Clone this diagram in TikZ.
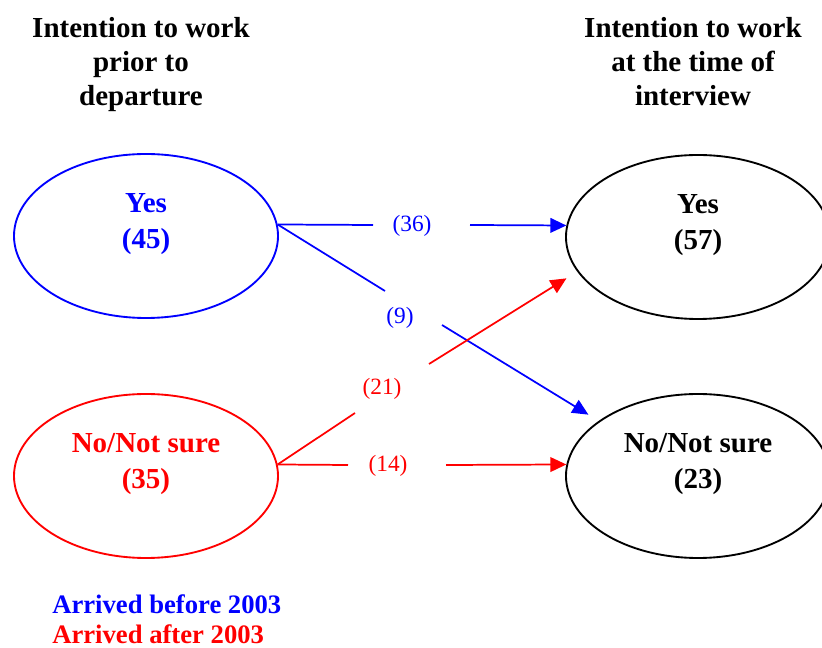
\documentclass[tikz,border=0pt]{standalone}
\usepackage{fontspec}
\setmainfont{Liberation Serif}
\usetikzlibrary{arrows.meta, shapes.geometric, positioning}

\tikzset{
  oval/.style={ellipse, line width=1.4pt, minimum width=198pt, minimum height=123pt, inner sep=0pt},
  heading/.style={font=\fontsize{21.75}{25.5}\selectfont\bfseries, align=center, inner sep=0pt},
  inside/.style={font=\fontsize{21.75}{27}\selectfont\bfseries, align=center, inner sep=0pt, yshift=9pt},
  count/.style={font=\fontsize{17.5}{20}\selectfont, inner sep=0pt},
  legend/.style={font=\fontsize{20}{22.5}\selectfont\bfseries, inner sep=0pt, anchor=base west},
  flow/.style={line width=1.3pt},
  tip/.style={-{Triangle[length=12pt,width=11pt]}},
}

\begin{document}
\begin{tikzpicture}[line join=round, x=0.75pt, y=-0.75pt]
\useasboundingbox (0,0) rectangle (822,648);

% Headings
\node[heading, anchor=north] (before) at (141,17) {Intention to work\\prior to\\departure};
\node[heading, anchor=north] (after) at (693,17) {Intention to work\\at the time of\\interview};

% Ellipses
\node[oval, draw=blue] (ly) at (146,236) {};
\node[oval, draw=red] (ln) at (146,476) {};
\node[oval, draw=black] (ry) at (698,237) {};
\node[oval, draw=black] (rn) at (698,476) {};

\node[inside, text=blue] (lytext) at (ly.center) {Yes\\(45)};
\node[inside, text=red] (lntext) at (ln.center) {No/Not sure\\(35)};
\node[inside] (rytext) at (ry.center) {Yes\\(57)};
\node[inside] (rntext) at (rn.center) {No/Not sure\\(23)};

% Gaps for the counts
\coordinate (b1a) at (373,225); \coordinate (b1b) at (470,225);
\coordinate (b2a) at (385,291); \coordinate (b2b) at (442,325);
\coordinate (r1a) at (355,413); \coordinate (r1b) at (429,364);
\coordinate (r2a) at (348,465); \coordinate (r2b) at (446,465);

% Arrived before 2003
\draw[flow, blue] (ly.5) -- (b1a);
\draw[flow, blue, tip] (b1b) -- (ry.175);
\draw[flow, blue] (ly.5) -- (b2a);
\draw[flow, blue, tip, shorten >=9pt] (b2b) -- (rn.151);

% Arrived after 2003
\draw[flow, red] (ln.5) -- (r1a);
\draw[flow, red, tip, shorten >=9.5pt] (r1b) -- (ry.196);
\draw[flow, red] (ln.5) -- (r2a);
\draw[flow, red, tip] (r2b) -- (rn.175);

% Counts
\foreach \x/\y/\n/\col in {412/226/36/blue, 400/318/9/blue, 382/389/21/red, 388/466/14/red} {
  \node[count, text=\col] (n\n) at (\x,\y) {(\n)};
}

% Legend
\node[legend, text=blue] (early) at (52,614) {Arrived before 2003};
\node[legend, text=red] (late) at (52,644) {Arrived after 2003};

\end{tikzpicture}
\end{document}
